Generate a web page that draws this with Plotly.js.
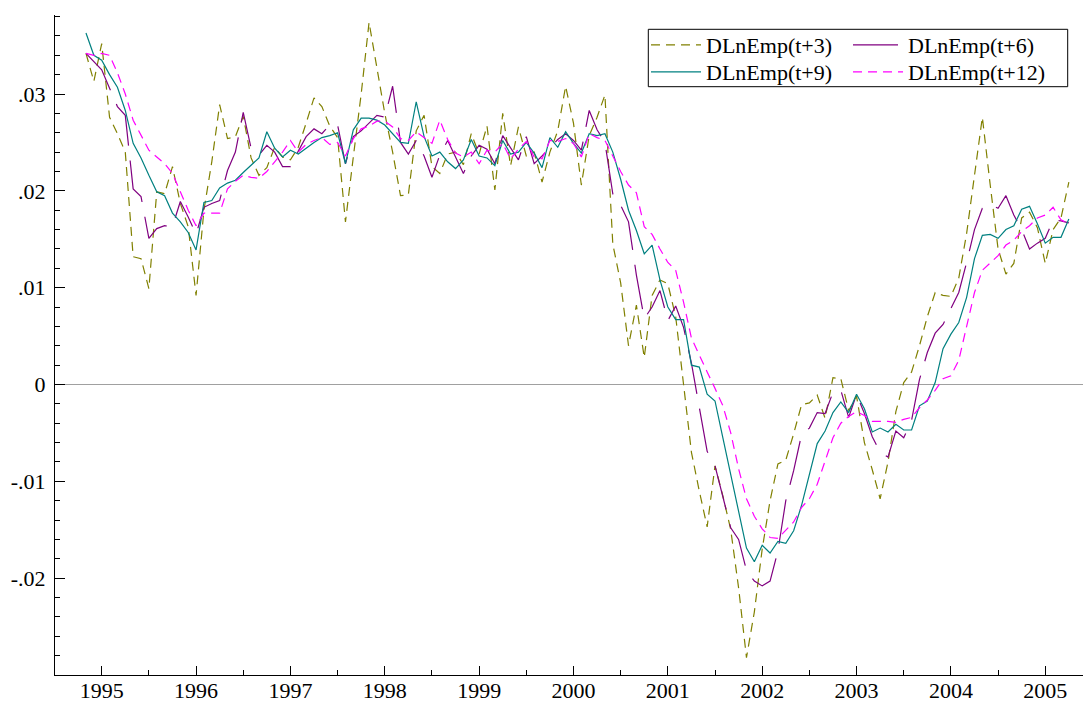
<!DOCTYPE html>
<html>
<head>
<meta charset="utf-8">
<script src="https://cdn.plot.ly/plotly-3.0.1.min.js"></script>
<style>html,body{margin:0;padding:0;background:#fff;}#chart{width:1083px;height:704px;}</style>
</head>
<body>
<div id="chart"></div>
<script>
// Monthly observations, first month = November 1994
const startYear = 1994;
const startMonth = 11;

const seriesNames = ["DLnEmp(t+3)", "DLnEmp(t+6)", "DLnEmp(t+9)", "DLnEmp(t+12)"];

const empT3 = [
 .0342,.0313,.0352,.0276,.0259,.0240,.0132,.0130,.0099,.0199,.0197,.0225,.0187,.0163,.0092,.0180,
 .0230,.0289,.0254,.0256,.0277,.0234,.0216,.0224,.0245,.0235,.0232,.0245,.0270,.0296,.0287,.0267,
 .0255,.0168,.0235,.0300,.0374,.0325,.0280,.0240,.0195,.0196,.0262,.0278,.0225,.0218,.0238,.0240,
 .0227,.0259,.0238,.0267,.0201,.0280,.0226,.0266,.0236,.0240,.0209,.0240,.0262,.0308,.0270,.0206,
 .0257,.0276,.0299,.0145,.0105,.0040,.0082,.0028,.0092,.0108,.0104,.0070,.0000,-.0070,-.0110,-.0147,
 -.0084,-.0115,-.0150,-.0210,-.0282,-.0235,-.0170,-.0120,-.0082,-.0078,-.0051,-.0021,-.0019,-.0011,-.0035,.0007,
 .0006,-.0027,-.0012,-.0060,-.0088,-.0118,-.0080,-.0028,.0002,.0013,.0040,.0070,.0095,.0092,.0091,.0110,
 .0156,.0218,.0276,.0206,.0140,.0114,.0125,.0172,.0178,.0162,.0125,.0160,.0172,.0209
];

const empT6 = [
 .0342,.0333,.0325,.0306,.0287,.0278,.0202,.0194,.0151,.0161,.0164,.0163,.0189,.0173,.0155,.0183,
 .0187,.0190,.0221,.0240,.0281,.0244,.0237,.0247,.0240,.0225,.0225,.0241,.0256,.0264,.0259,.0268,
 .0268,.0228,.0256,.0262,.0270,.0278,.0276,.0308,.0250,.0238,.0252,.0236,.0214,.0237,.0252,.0235,
 .0218,.0236,.0247,.0243,.0228,.0257,.0245,.0232,.0256,.0228,.0236,.0244,.0253,.0259,.0252,.0242,
 .0283,.0263,.0250,.0197,.0185,.0168,.0113,.0068,.0080,.0097,.0066,.0081,.0059,.0022,-.0022,-.0069,
 -.0084,-.0117,-.0148,-.0160,-.0192,-.0203,-.0208,-.0203,-.0172,-.0120,-.0089,-.0052,-.0045,-.0029,-.0030,-.0008,
 -.0006,-.0034,-.0010,-.0030,-.0054,-.0070,-.0075,-.0048,-.0055,-.0037,.0005,.0033,.0053,.0062,.0078,.0095,
 .0126,.0160,.0182,.0186,.0182,.0195,.0175,.0160,.0140,.0146,.0151,.0170,.0169,.0167
];

const empT9 = [
 .0363,.0340,.0335,.0320,.0307,.0283,.0249,.0234,.0216,.0199,.0195,.0177,.0168,.0157,.0139,.0188,
 .0190,.0203,.0208,.0211,.0219,.0226,.0234,.0261,.0244,.0235,.0242,.0238,.0244,.0250,.0255,.0257,
 .0260,.0228,.0263,.0275,.0275,.0273,.0268,.0259,.0250,.0249,.0292,.0256,.0236,.0240,.0230,.0223,
 .0232,.0253,.0236,.0234,.0226,.0252,.0238,.0240,.0250,.0239,.0224,.0255,.0245,.0261,.0249,.0239,
 .0259,.0257,.0259,.0240,.0212,.0180,.0159,.0135,.0144,.0108,.0080,.0067,.0067,.0020,.0018,-.0010,
 -.0017,-.0055,-.0093,-.0131,-.0169,-.0183,-.0166,-.0174,-.0162,-.0164,-.0151,-.0125,-.0092,-.0061,-.0048,-.0029,
 -.0018,-.0029,-.0010,-.0025,-.0049,-.0045,-.0049,-.0041,-.0047,-.0047,-.0022,-.0017,.0002,.0037,.0052,.0064,
 .0090,.0130,.0154,.0155,.0151,.0160,.0164,.0181,.0184,.0166,.0146,.0152,.0152,.0171
];

const empT12 = [
 .0342,.0340,.0342,.0340,.0322,.0300,.0273,.0258,.0242,.0235,.0228,.0218,.0199,.0180,.0164,.0177,
 .0177,.0177,.0202,.0210,.0216,.0214,.0213,.0220,.0230,.0240,.0252,.0240,.0248,.0252,.0255,.0248,
 .0250,.0236,.0254,.0264,.0267,.0272,.0272,.0266,.0254,.0252,.0261,.0255,.0249,.0273,.0253,.0239,
 .0235,.0240,.0228,.0242,.0240,.0249,.0233,.0243,.0251,.0235,.0233,.0252,.0251,.0254,.0249,.0235,
 .0259,.0255,.0252,.0236,.0220,.0206,.0198,.0163,.0155,.0140,.0126,.0118,.0085,.0048,.0030,.0013,
 -.0004,-.0022,-.0050,-.0087,-.0118,-.0136,-.0149,-.0158,-.0159,-.0151,-.0142,-.0127,-.0118,-.0103,-.0078,-.0055,
 -.0040,-.0033,-.0028,-.0032,-.0038,-.0038,-.0038,-.0039,-.0036,-.0034,-.0024,-.0016,-.0006,.0006,.0009,.0025,
 .0060,.0095,.0118,.0126,.0133,.0144,.0149,.0158,.0164,.0172,.0175,.0183,.0170,.0166
];

const xTickVals = [1995,1996,1997,1998,1999,2000,2001,2002,2003,2004,2005];
const xTickText = ["1995","1996","1997","1998","1999","2000","2001","2002","2003","2004","2005"];
const yTickVals = [-0.02,-0.01,0,0.01,0.02,0.03];
const yTickText = ["-.02","-.01","0",".01",".02",".03"];

// time axis in decimal years built from the monthly index
const months = empT3.map((_, i) => startYear + (startMonth - 1) / 12 + i / 12);

const FONT = "'Liberation Serif', 'Times New Roman', Times, 'DejaVu Serif', serif";
const FS = 22;

function tr(name, y, color, dash, legend) {
  return {
    type: "scatter", mode: "lines", name: name, x: months, y: y,
    line: {color: color, width: 1.2, dash: dash},
    legend: legend, hoverinfo: "skip"
  };
}

const data = [
  tr(seriesNames[0], empT3, "#808000", "9px,6px", "legend"),
  tr(seriesNames[1], empT6, "#800080", "45px,15px", "legend2"),
  tr(seriesNames[2], empT9, "#008080", "solid", "legend3"),
  tr(seriesNames[3], empT12, "#ff00ff", "9px,6px", "legend4")
];

const W = 1083, H = 704, ML = 55, MR = 0, MT = 15, MB = 29;
const PW = W - ML - MR, PH = H - MT - MB;
const px = v => (v - ML) / PW;
const py = v => (H - MB - v) / PH;

const legendCommon = {
  font: {family: FONT, size: FS, color: "#000"},
  bgcolor: "rgba(0,0,0,0)", borderwidth: 0,
  xanchor: "left", yanchor: "top", itemwidth: 50,
  tracegroupgap: 0, itemclick: false, itemdoubleclick: false
};

const layout = {
  width: W, height: H,
  margin: {l: ML, r: MR, t: MT, b: MB, pad: 0},
  paper_bgcolor: "#fff", plot_bgcolor: "#fff",
  font: {family: FONT, size: FS, color: "#000"},
  showlegend: true,
  legend: Object.assign({}, legendCommon, {x: px(646), y: py(24)}),
  legend2: Object.assign({}, legendCommon, {x: px(848), y: py(24)}),
  legend3: Object.assign({}, legendCommon, {x: px(646), y: py(51)}),
  legend4: Object.assign({}, legendCommon, {x: px(848), y: py(51)}),
  xaxis: {
    range: [1994.505, 2005.40],
    tickmode: "array", tickvals: xTickVals, ticktext: xTickText,
    ticks: "inside", ticklen: 9, tickwidth: 1, tickcolor: "#000",
    minor: {tickmode: "linear", tick0: 0.5, dtick: 1, ticks: "inside", ticklen: 5, tickwidth: 1, tickcolor: "#000", showgrid: false},
    showline: true, linecolor: "#000", linewidth: 1,
    showgrid: false, zeroline: false,
    tickfont: {family: FONT, size: FS, color: "#000"},
    ticklabelstandoff: -4
  },
  yaxis: {
    range: [-0.0300, 0.03816],
    tickmode: "array", tickvals: yTickVals, ticktext: yTickText,
    ticks: "inside", ticklen: 10, tickwidth: 1, tickcolor: "#000",
    minor: {tickmode: "linear", tick0: 0, dtick: 0.002, ticks: "inside", ticklen: 5, tickwidth: 1, tickcolor: "#000", showgrid: false},
    showline: true, linecolor: "#000", linewidth: 1,
    showgrid: false,
    zeroline: true, zerolinecolor: "#a0a0a0", zerolinewidth: 1.2,
    tickfont: {family: FONT, size: FS, color: "#000"},
    ticklabelstandoff: 4
  },
  shapes: [{
    type: "rect", xref: "paper", yref: "paper",
    x0: px(648.3), x1: px(1067.7), y0: py(86.7), y1: py(29.3),
    line: {color: "#000", width: 1}, fillcolor: "rgba(0,0,0,0)"
  }]
};

Plotly.newPlot("chart", data, layout, {staticPlot: true, displayModeBar: false});
</script>
</body>
</html>
